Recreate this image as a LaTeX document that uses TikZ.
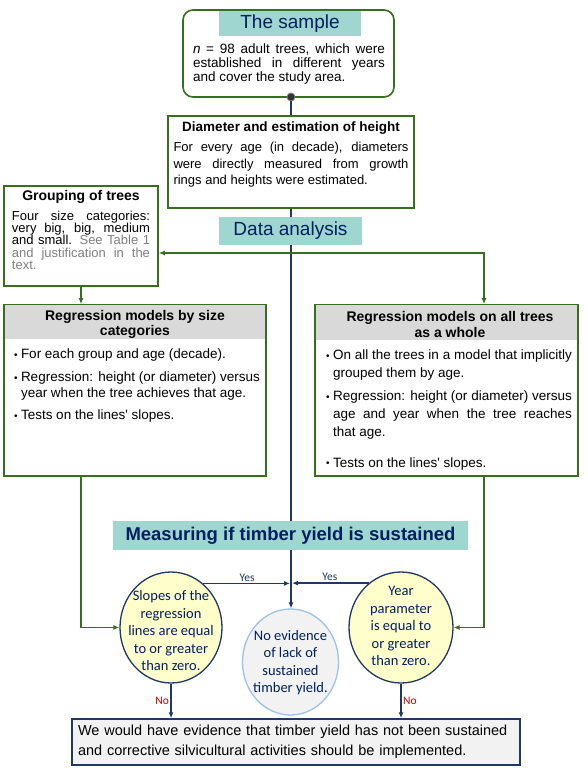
\documentclass[tikz,border=0pt]{standalone}
\usepackage{fontspec}
\setmainfont{Liberation Sans}
\newfontfamily\calibri{Carlito}
\usetikzlibrary{arrows.meta, backgrounds, shapes.geometric}
\hyphenpenalty=10000
\exhyphenpenalty=10000
\tolerance=9000
\definecolor{boxgreen}{RGB}{56,110,28}
\definecolor{titlenavy}{RGB}{0,32,96}
\definecolor{lineblue}{RGB}{31,56,100}
\definecolor{bandteal}{RGB}{160,214,208}
\definecolor{headgray}{RGB}{217,217,217}
\definecolor{paleyellow}{RGB}{255,255,204}
\definecolor{softgray}{RGB}{242,242,242}
\definecolor{skyline}{RGB}{157,195,230}
\definecolor{noRed}{RGB}{192,0,0}
\definecolor{notegray}{RGB}{128,128,128}
\tikzset{greenbox/.style = {draw = boxgreen, line width = 1.6pt, fill = white, inner sep = 0pt}}
\tikzset{band/.style = {fill = bandteal, text = titlenavy, inner sep = 0pt}}
\tikzset{headband/.style = {fill = headgray, inner sep = 0pt}}
\tikzset{boxtitle/.style = {font = \bfseries\fontsize{14}{15.5}\selectfont, align = center, inner sep = 0pt}}
\tikzset{boxtext/.style = {align = justify, inner sep = 0pt, anchor = north}}
\tikzset{decision/.style = {ellipse, draw = lineblue, line width = 1.3pt, fill = paleyellow, inner sep = 0pt}}
\tikzset{roundtext/.style = {text = titlenavy, align = center, inner sep = 0pt, font = \calibri\fontsize{14.5}{17.5}\selectfont}}
\tikzset{navyedge/.style = {draw = lineblue, line width = 1.3pt, -{Latex[length = 6pt, width = 5pt]}}}
\tikzset{greenedge/.style = {draw = boxgreen, line width = 1.3pt, -{Latex[length = 6pt, width = 5pt]}}}
\tikzset{answer/.style = {font = \calibri\fontsize{11.5}{12}\selectfont, inner sep = 1.5pt}}
\newcommand{\treeitem}{\noindent\hangindent=7pt\hangafter=1\makebox[7pt][l]{\raisebox{0.4pt}{\fontsize{10}{10}\selectfont\textbullet}}}

\begin{document}
\begin{tikzpicture}[x = 1pt, y = -1pt]
	\useasboundingbox (0,0) rectangle (588,770);
	\begin{scope}[on background layer]
		\fill[white] (0,0) rectangle (588,770);
	\end{scope}

	% the sample
	\node[greenbox, rounded corners = 10pt, minimum width = 211pt, minimum height = 87pt] (sample) at (288.5,53.5) {};
	\node[band, minimum width = 142pt, minimum height = 25pt, font = \fontsize{19}{22}\selectfont] (sampleT) at (290,23.5) {The sample};
	\node[boxtext, text width = 192pt, font = \fontsize{13.5}{13.7}\selectfont] (sampleB) at (289,44) {\textit{n} = 98 adult trees, which were established in different years and cover the study area.};
	\node[circle, fill = darkgray!80!black, draw = gray, line width = 0.8pt, minimum size = 8pt, inner sep = 0pt] (dot) at (291,97) {};

	% diameter
	\node[greenbox, minimum width = 246pt, minimum height = 92pt] (diam) at (291,162) {};
	\node[boxtitle, font = \bfseries\fontsize{13.5}{15}\selectfont] (diamT) at (291,128) {Diameter and estimation of height};
	\node[boxtext, text width = 235pt, font = \fontsize{13}{16.5}\selectfont] (diamB) at (291,142) {For every age (in decade), diameters were directly measured from growth\linebreak rings and heights were estimated.};

	% data analysis
	\node[band, minimum width = 143pt, minimum height = 28pt, font = \fontsize{19}{22}\selectfont] (data) at (290.5,231) {Data analysis};

	% grouping
	\node[greenbox, minimum width = 154pt, minimum height = 100pt] (group) at (81,236) {};
	\node[boxtitle] (groupT) at (81,197) {Grouping of trees};
	\node[boxtext, text width = 138pt, font = \fontsize{13}{12.4}\selectfont] (groupB) at (81,210.5) {Four size categories: very big, big, medium and small. \textcolor{notegray}{See Table 1 and justification in the text.}};

	% regression by size
	\node[greenbox, minimum width = 262pt, minimum height = 171pt] (lreg) at (135,390.5) {};
	\node[headband, minimum width = 260pt, minimum height = 34pt, anchor = north] (lregH) at ([yshift = -0.8pt]lreg.north) {};
	\node[boxtitle] (lregT) at (135,324.5) {Regression models by size\\categories};
	\node[boxtext, text width = 246pt, font = \fontsize{13.5}{16}\selectfont] (lregB) at (137,349) {\treeitem For each group and age (decade).\par\vspace{6.5pt}\treeitem Regression: height (or diameter) versus year when the tree achieves that age.\par\vspace{6pt}\treeitem Tests on the lines\textquotesingle{} slopes.};

	% regression on all trees
	\node[greenbox, minimum width = 263pt, minimum height = 171pt] (rreg) at (446.5,390.5) {};
	\node[headband, minimum width = 261pt, minimum height = 35pt, anchor = north] (rregH) at ([yshift = -0.8pt]rreg.north) {};
	\node[boxtitle] (rregT) at (450,324.5) {Regression models on all trees\\as a whole};
	\node[boxtext, text width = 246pt, font = \fontsize{13.5}{18}\selectfont] (rregB) at (449,350) {\treeitem On all the trees in a model that implicitly grouped them by age.\par\vspace{4.7pt}\treeitem Regression: height (or diameter) versus age and year when the tree reaches\linebreak that age.\par\vspace{12.6pt}\treeitem Tests on the lines\textquotesingle{} slopes.};

	% measuring
	\node[band, minimum width = 355pt, minimum height = 29pt, font = \bfseries\fontsize{18.5}{22}\selectfont] (measure) at (290.5,535.5) {Measuring if timber yield is sustained};

	% decisions
	\node[decision, minimum width = 102pt, minimum height = 111pt] (lell) at (171,627.5) {};
	\node[roundtext] (lellT) at (171,631) {Slopes of the\\regression\\lines are equal\\to or greater\\than zero.};
	\node[decision, minimum width = 104pt, minimum height = 111pt] (rell) at (401,627.5) {};
	\node[roundtext] (rellT) at (401,626) {Year\\parameter\\is equal to\\or greater\\than zero.};
	\node[ellipse, draw = skyline, line width = 1.3pt, fill = softgray, minimum width = 96pt, minimum height = 106pt, inner sep = 0pt] (mid) at (290.5,662) {};
	\node[roundtext] (midT) at (290.5,662.5) {No evidence\\of lack of\\sustained\\timber yield.};

	% final
	\node[draw = lineblue, line width = 1.5pt, fill = softgray, text width = 436pt, inner xsep = 6pt, minimum height = 46pt, align = left, font = \fontsize{14.5}{20}\selectfont] (final) at (296,742) {We would have evidence that timber yield has not been sustained\\and corrective silvicultural activities should be implemented.};

	% connectors
	\coordinate (split) at (291,253);
	\coordinate (rdrop) at (484,253);
	\draw[greenedge] (split) -- (split -| group.east);
	\draw[greenedge] (split) -- (rdrop) -- (rdrop |- rreg.north);
	\draw[greenedge] (group.south) -- (group.south |- lreg.north);
	\draw[greenedge] (group.south |- lreg.south) |- (lell.west);
	\draw[greenedge] (rdrop |- rreg.south) |- (rell.east);

	\draw[navyedge, shorten > = 1pt] (lell.54) -- (lell.54 -| dot) node[answer, midway, above, text = lineblue] {Yes};
	\draw[navyedge, shorten > = 1pt] (rell.126) -- (rell.126 -| dot) node[answer, midway, above, text = lineblue] {Yes};
	\draw[navyedge] (lell.south) -- (lell.south |- final.north) node[answer, midway, left, text = noRed] {No};
	\draw[navyedge] (rell.south) -- (rell.south |- final.north) node[answer, midway, right, text = noRed] {No};

	\begin{scope}[on background layer]
		\draw[navyedge] (dot) -- (dot |- mid.north);
	\end{scope}
\end{tikzpicture}
\end{document}
